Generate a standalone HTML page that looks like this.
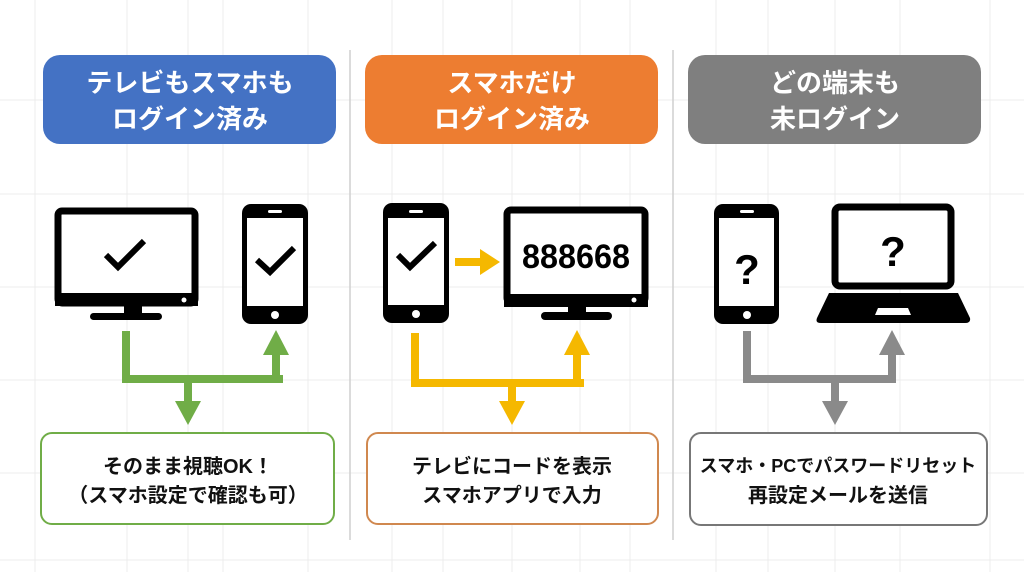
<!DOCTYPE html>
<html><head><meta charset="utf-8"><style>
html,body{margin:0;padding:0;background:#fff;}
svg{display:block}
text{font-family:"Liberation Sans","Noto Sans CJK JP",sans-serif;font-weight:bold;text-anchor:middle}
</style></head><body>
<svg width="1024" height="572" viewBox="0 0 1024 572" xmlns="http://www.w3.org/2000/svg">
<rect width="1024" height="572" fill="#fff"/>
<g stroke="#ececec" stroke-width="1">
<line x1="35" y1="0" x2="35" y2="572"/><line x1="127" y1="0" x2="127" y2="572"/><line x1="188" y1="0" x2="188" y2="572"/><line x1="223" y1="0" x2="223" y2="572"/><line x1="308" y1="0" x2="308" y2="572"/>
<line x1="392" y1="0" x2="392" y2="572"/><line x1="443" y1="0" x2="443" y2="572"/><line x1="512" y1="0" x2="512" y2="572"/><line x1="580" y1="0" x2="580" y2="572"/><line x1="630" y1="0" x2="630" y2="572"/>
<line x1="716" y1="0" x2="716" y2="572"/><line x1="768" y1="0" x2="768" y2="572"/><line x1="835" y1="0" x2="835" y2="572"/><line x1="900" y1="0" x2="900" y2="572"/><line x1="990" y1="0" x2="990" y2="572"/>
<line x1="0" y1="100" x2="1024" y2="100"/><line x1="0" y1="194" x2="1024" y2="194"/><line x1="0" y1="287" x2="1024" y2="287"/><line x1="0" y1="380" x2="1024" y2="380"/><line x1="0" y1="473" x2="1024" y2="473"/><line x1="0" y1="560" x2="1024" y2="560"/>
</g>
<g stroke="#cfcfcf" stroke-width="1.5">
<line x1="350" y1="50" x2="350" y2="540"/><line x1="673" y1="50" x2="673" y2="540"/>
</g>

<rect x="43" y="55" width="293" height="89" rx="17" fill="#4472c4"/>
<rect x="365" y="55" width="293" height="89" rx="17" fill="#ed7d31"/>
<rect x="688" y="55" width="293" height="89" rx="17" fill="#7f7f7f"/>
<g fill="#fff" font-size="26">
<text x="190" y="92">テレビもスマホも</text><text x="190" y="128">ログイン済み</text>
<text x="512" y="92">スマホだけ</text><text x="512" y="128">ログイン済み</text>
<text x="835" y="92">どの端末も</text><text x="835" y="128">未ログイン</text>
</g>

<!-- Panel 1 -->
<rect x="58" y="211" width="137" height="92" rx="4" fill="#fff" stroke="#000" stroke-width="7"/>
<rect x="55" y="293" width="143" height="13" fill="#000"/>
<circle cx="184" cy="300" r="2.5" fill="#fff"/>
<rect x="124" y="305" width="18" height="9" fill="#000"/>
<rect x="90" y="313" width="72" height="7" rx="3.5" fill="#000"/>
<path d="M106 255 L118 267 L144 241" fill="none" stroke="#000" stroke-width="6"/>
<rect x="242" y="204" width="66" height="120" rx="9" fill="#000"/>
<rect x="247" y="218" width="56" height="88" fill="#fff"/>
<rect x="268" y="210" width="14" height="3" rx="1.5" fill="#fff"/>
<circle cx="275" cy="315" r="4" fill="#fff"/>
<path d="M257 260 L270 272 L294 248" fill="none" stroke="#000" stroke-width="6"/>
<g fill="#70ad47">
<rect x="122" y="331" width="8" height="52"/><rect x="122" y="375" width="161" height="8"/>
<rect x="272" y="350" width="8" height="30"/><path d="M263 355 L276 330 L289 355Z"/>
<rect x="184" y="380" width="8" height="24"/><path d="M175 401 L188 425 L201 401Z"/>
</g>

<!-- Panel 2 -->
<rect x="383" y="203" width="66" height="120" rx="9" fill="#000"/>
<rect x="388" y="218" width="56" height="87" fill="#fff"/>
<rect x="409" y="210" width="14" height="3" rx="1.5" fill="#fff"/>
<circle cx="416" cy="314" r="4" fill="#fff"/>
<path d="M398 255 L410 267 L435 243" fill="none" stroke="#000" stroke-width="6"/>
<rect x="507" y="210" width="138" height="92" rx="4" fill="#fff" stroke="#000" stroke-width="7"/>
<rect x="504" y="294" width="144" height="13" fill="#000"/>
<circle cx="634" cy="300" r="2.5" fill="#fff"/>
<rect x="568" y="306" width="18" height="8" fill="#000"/>
<rect x="541" y="312" width="71" height="8" rx="4" fill="#000"/>
<text x="576" y="268" font-size="34" fill="#000" font-family="Liberation Sans" textLength="108" lengthAdjust="spacingAndGlyphs">888668</text>
<g fill="#f5b800">
<rect x="455" y="258" width="28" height="8"/><path d="M480 249 L500 262 L480 275Z"/>
<rect x="411" y="333" width="8" height="54"/><rect x="411" y="379" width="173" height="8"/>
<rect x="573" y="350" width="8" height="32"/><path d="M564 355 L577 330 L590 355Z"/>
<rect x="508" y="384" width="8" height="20"/><path d="M499 401 L512 425 L525 401Z"/>
</g>

<!-- Panel 3 -->
<rect x="714" y="204" width="65" height="120" rx="9" fill="#000"/>
<rect x="719" y="218" width="55" height="88" fill="#fff"/>
<rect x="740" y="210" width="14" height="3" rx="1.5" fill="#fff"/>
<circle cx="747" cy="315" r="4" fill="#fff"/>
<text x="747" y="284" font-size="42" fill="#000">?</text>
<rect x="835" y="207" width="116" height="79" rx="5" fill="#fff" stroke="#000" stroke-width="7"/>
<text x="893" y="266" font-size="42" fill="#000">?</text>
<path d="M829 293 L958 293 L970 318 Q971 323 965 323 L821 323 Q815 323 817 318Z" fill="#000"/>
<path d="M878 308 L908 308 L911 315 L875 315Z" fill="#fff"/>
<g fill="#8a8a8a">
<rect x="743" y="331" width="8" height="52"/><rect x="743" y="375" width="153" height="8"/>
<rect x="888" y="350" width="8" height="30"/><path d="M879 355 L892 330 L905 355Z"/>
<rect x="831" y="380" width="8" height="24"/><path d="M822 401 L835 425 L848 401Z"/>
</g>

<rect x="41" y="433" width="293" height="91" rx="11" fill="#fff" stroke="#70ad47" stroke-width="2"/>
<rect x="367" y="433" width="291" height="91" rx="11" fill="#fff" stroke="#d0884f" stroke-width="2"/>
<rect x="690" y="433" width="297" height="92" rx="11" fill="#fff" stroke="#777" stroke-width="2"/>
<g fill="#111" font-size="20">
<text x="188" y="473">そのまま視聴OK！</text><text x="188" y="502">（スマホ設定で確認も可）</text>
<text x="512" y="473">テレビにコードを表示</text><text x="512" y="502">スマホアプリで入力</text>
<text x="838" y="472" font-size="18">スマホ・PCでパスワードリセット</text><text x="838" y="502">再設定メールを送信</text>
</g>
</svg>
</body></html>
